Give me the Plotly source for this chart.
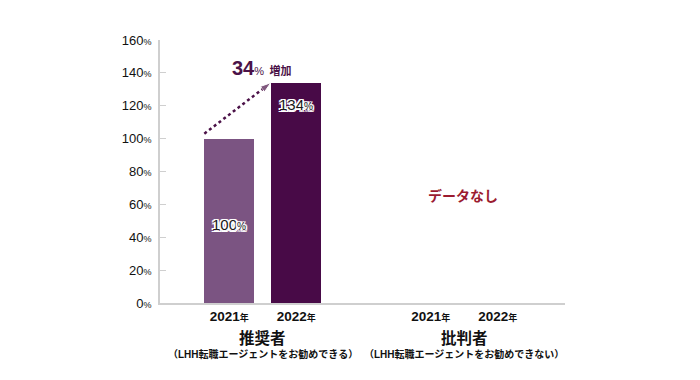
import plotly.graph_objects as go

groups = ["推奨者", "批判者"]
group_notes = ["（LHH転職エージェントをお勧めできる）", "（LHH転職エージェントをお勧めできない）"]
years = ["2021", "2022"]
values = {"推奨者": [100, 134], "批判者": [None, None]}
bar_labels = ["100", "134"]
increase_label = "34"
no_data_text = "データなし"
y_ticks = [0, 20, 40, 60, 80, 100, 120, 140, 160]

colors = ["#7b5482", "#480a47"]
FONT = "Liberation Sans, Noto Sans CJK JP, sans-serif"
JFONT = "Noto Sans CJK JP, sans-serif"

fig = go.Figure()

xpos, xtext = [], []
for gi, g in enumerate(groups):
    for yi, yr in enumerate(years):
        x = gi * 3 + yi
        xpos.append(x)
        xtext.append(f"<b>{yr}</b><span style='font-size:9px'><b>年</b></span>")
        v = values[g][yi]
        if v is not None:
            fig.add_trace(go.Bar(x=[x], y=[v], width=0.74, marker=dict(color=colors[yi], line=dict(width=0)),
                                 showlegend=False, hoverinfo="skip"))

halo = ("-1.5px -1.5px 0 #fff, 1.5px -1.5px 0 #fff, -1.5px 1.5px 0 #fff, 1.5px 1.5px 0 #fff, "
        "0 1.5px 0 #fff, 0 -1.5px 0 #fff, 1.5px 0 0 #fff, -1.5px 0 0 #fff")
v0, v1 = values[groups[0]]
fig.add_annotation(x=0, y=v0 * 0.475, text=f"{bar_labels[0]}<span style='font-size:10px'>%</span>", showarrow=False,
                   font=dict(family=FONT, size=15, color="#1a1a1a", shadow=halo))
fig.add_annotation(x=1, y=v1 * 0.9, text=f"{bar_labels[1]}<span style='font-size:10px'>%</span>", showarrow=False,
                   font=dict(family=FONT, size=15, color="#1a1a1a", shadow=halo))

# dotted arrow
fig.add_trace(go.Scatter(x=[-0.37, 0.62], y=[v0 + 3, v1], mode="lines+markers",
                         line=dict(color="#4b1248", width=2.5, dash="dot"),
                         marker=dict(symbol="arrow", size=[0, 11], angleref="previous", color="#4b1248"),
                         showlegend=False, hoverinfo="skip"))

fig.add_annotation(x=0.49, y=143, text=f"<b>{increase_label}</b><span style='font-size:11px'>%</span> <span style='font-size:11px'><b>増加</b></span>",
                   showarrow=False, font=dict(family=FONT, size=20, color="#4b1248"))

fig.add_annotation(x=3.48, y=66, text=f"<b>{no_data_text}</b>", showarrow=False,
                   font=dict(family=JFONT, size=14, color="#9b1b30"))

for gi, g in enumerate(groups):
    fig.add_annotation(x=gi * 3 + 0.5, y=0, yref="y", yshift=-34, text=f"<b>{g}</b>", showarrow=False,
                       font=dict(family=JFONT, size=15.5, color="#111"))
    fig.add_annotation(x=gi * 3 + 0.5, y=0, yref="y", yshift=-51, text=f"<b>{group_notes[gi]}</b>", showarrow=False,
                       font=dict(family=FONT, size=10, color="#111"))

fig.update_layout(
    width=700, height=380,
    margin=dict(l=152, r=143, t=32, b=85),
    plot_bgcolor="white", paper_bgcolor="white",
    font=dict(family=FONT, color="#111"),
    bargap=0,
    xaxis=dict(range=[-1.03, 5.0], tickvals=xpos, ticktext=xtext, tickfont=dict(size=13.5),
               showgrid=False, zeroline=False, showline=True, linecolor="#cfcfcf", linewidth=2,
               ticks="", fixedrange=True),
    yaxis=dict(range=[0, 160], tickvals=y_ticks,
               ticktext=[f"{t}<span style='font-size:9px'>%</span>" for t in y_ticks],
               tickfont=dict(size=13), showgrid=False, zeroline=False, showline=True,
               linecolor="#cfcfcf", linewidth=2, ticks="inside", ticklen=6, tickcolor="#cfcfcf",
               ticklabelstandoff=4, fixedrange=True),
)

fig.write_html("out.html")
